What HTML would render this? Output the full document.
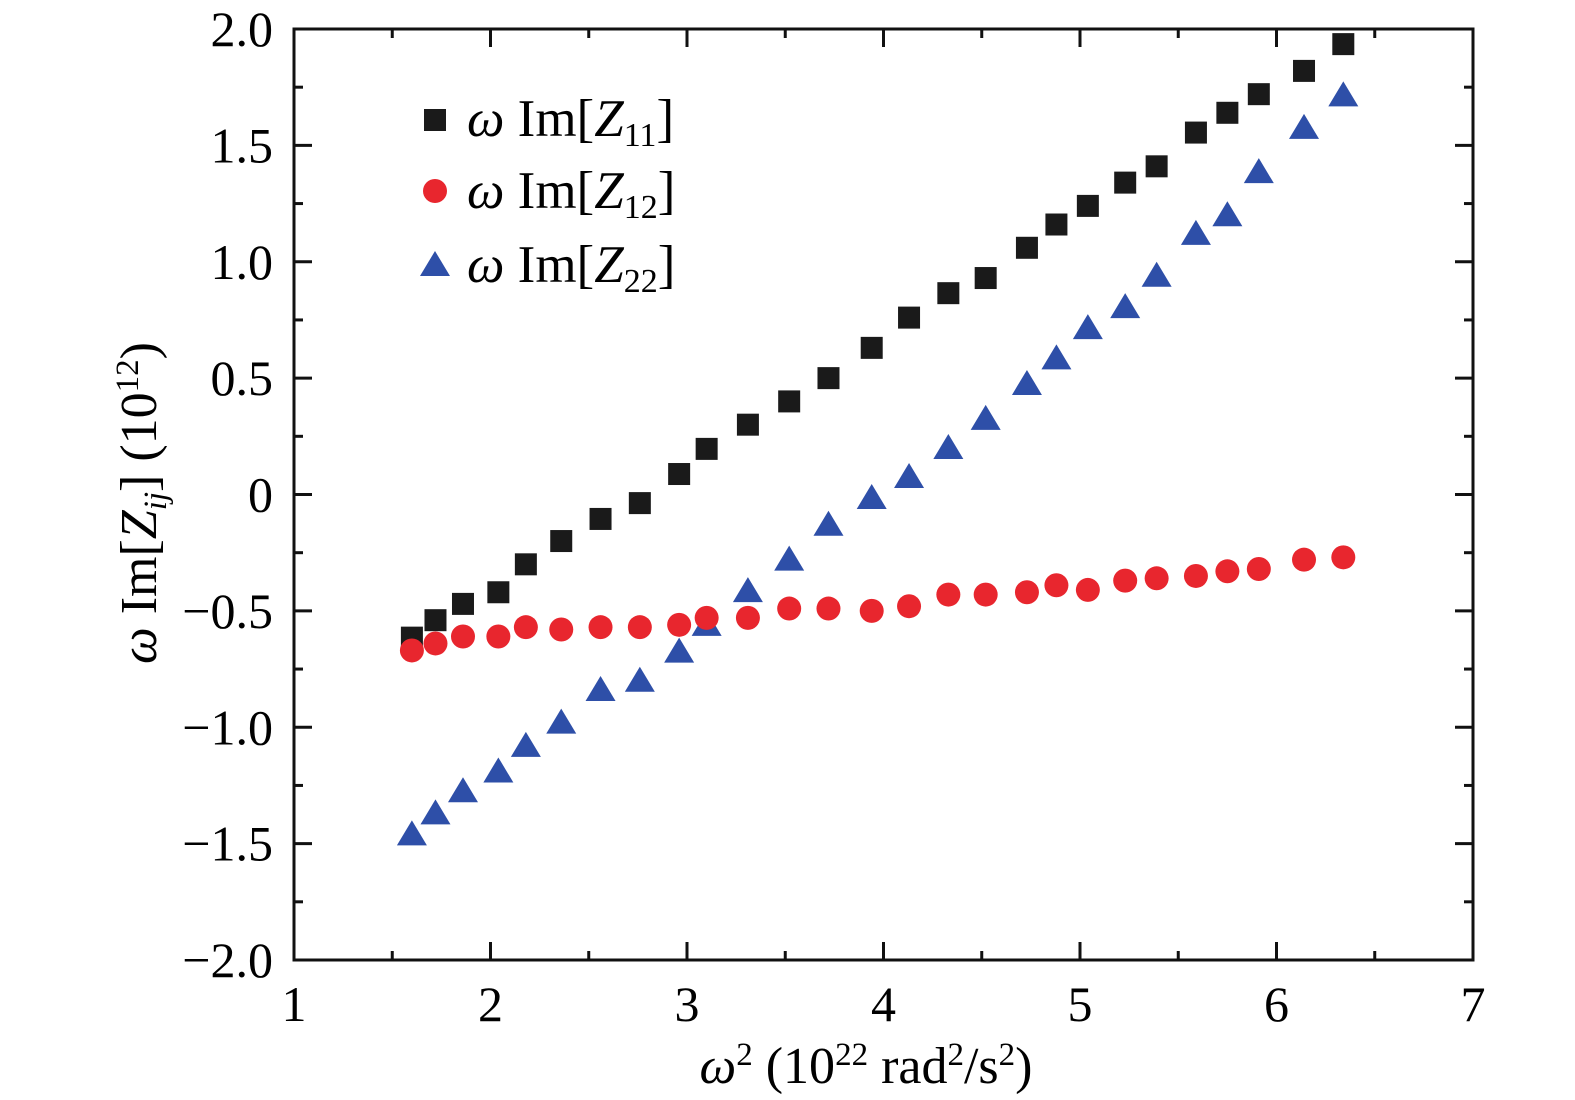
<!DOCTYPE html>
<html><head><meta charset="utf-8"><style>
html,body{margin:0;padding:0;background:#fff;overflow:hidden;width:1575px;height:1100px}
svg{display:block;font-family:"Liberation Serif",serif}
</style></head><body>
<svg id="chart" width="1575" height="1100" xmlns="http://www.w3.org/2000/svg">
<g id="axes"></g>
<g id="marks"></g>
<g id="legend">
 <rect x="424" y="109" width="22" height="22" fill="#1a1a1a"/>
 <text x="467" y="136" font-size="53"><tspan font-style="italic">ω</tspan> Im[<tspan font-style="italic">Z</tspan><tspan font-size="34" dy="10">11</tspan><tspan dy="-10">]</tspan></text>
 <circle cx="435" cy="191" r="12" fill="#e8262e"/>
 <text x="467" y="208" font-size="53"><tspan font-style="italic">ω</tspan> Im[<tspan font-style="italic">Z</tspan><tspan font-size="34" dy="10">12</tspan><tspan dy="-10">]</tspan></text>
 <polygon points="420,276 450,276 435,251" fill="#2e4fa8"/>
 <text x="467" y="282" font-size="53"><tspan font-style="italic">ω</tspan> Im[<tspan font-style="italic">Z</tspan><tspan font-size="34" dy="10">22</tspan><tspan dy="-10">]</tspan></text>
</g>
<text x="866" y="1083" font-size="52" text-anchor="middle"><tspan font-style="italic">ω</tspan><tspan font-size="33" dy="-18">2</tspan><tspan dy="18"> (10</tspan><tspan font-size="33" dy="-18">22</tspan><tspan dy="18"> rad</tspan><tspan font-size="33" dy="-18">2</tspan><tspan dy="18">/s</tspan><tspan font-size="33" dy="-18">2</tspan><tspan dy="18">)</tspan></text>
<text transform="translate(156,503) rotate(-90)" font-size="52" text-anchor="middle"><tspan font-style="italic">ω</tspan> Im[<tspan font-style="italic">Z</tspan><tspan font-size="33" font-style="italic" dy="10">ij</tspan><tspan dy="-10">] (10</tspan><tspan font-size="33" dy="-18">12</tspan><tspan dy="18">)</tspan></text>
</svg>
<script>
const xVals=[1.60,1.72,1.86,2.04,2.18,2.36,2.56,2.76,2.96,3.10,3.31,3.52,3.72,3.94,4.13,4.33,4.52,4.73,4.88,5.04,5.23,5.39,5.59,5.75,5.91,6.14,6.34];
const z11=[-0.615,-0.54,-0.47,-0.42,-0.30,-0.20,-0.105,-0.037,0.088,0.196,0.30,0.40,0.50,0.63,0.76,0.865,0.93,1.06,1.16,1.24,1.34,1.41,1.555,1.64,1.72,1.82,1.935];
const z12=[-0.67,-0.64,-0.61,-0.61,-0.57,-0.58,-0.57,-0.57,-0.56,-0.53,-0.53,-0.49,-0.49,-0.50,-0.48,-0.43,-0.43,-0.42,-0.39,-0.41,-0.37,-0.36,-0.35,-0.33,-0.32,-0.28,-0.27];
const z22=[-1.46,-1.37,-1.275,-1.19,-1.08,-0.98,-0.84,-0.80,-0.675,-0.56,-0.415,-0.28,-0.13,-0.015,0.075,0.20,0.325,0.475,0.585,0.715,0.805,0.94,1.12,1.20,1.385,1.575,1.715];
const xTicks=[1,2,3,4,5,6,7];
const yTicks=[-2,-1.5,-1,-0.5,0,0.5,1,1.5,2];
const yTickLabels=["\u22122.0","\u22121.5","\u22121.0","\u22120.5","0","0.5","1.0","1.5","2.0"];
const L=294,R=1473,T=29,B=960;
const sx=v=>L+(v-1)/6*(R-L);
const sy=v=>B-(v+2)/4*(B-T);
const NS="http://www.w3.org/2000/svg";
function mk(tag,attrs,parent){const e=document.createElementNS(NS,tag);for(const k in attrs)e.setAttribute(k,attrs[k]);parent.appendChild(e);return e;}
const axes=document.getElementById('axes');
const frame=mk('rect',{x:L,y:T,width:R-L,height:B-T,fill:'none',stroke:'#111','stroke-width':3},axes);


for(let v=1;v<=7.001;v+=0.5){
  const len=Number.isInteger(v)?18:9,x=sx(v);
  const t1=mk('line',{x1:x,x2:x,y1:B,y2:B-len,stroke:'#111','stroke-width':3},axes);
  
  
  const t2=mk('line',{x1:x,x2:x,y1:T,y2:T+len,stroke:'#111','stroke-width':3},axes);
  
  
}
for(let v=-2;v<=2.001;v+=0.25){
  const len=Math.abs(v*2-Math.round(v*2))<1e-6?18:9,y=sy(v);
  const t1=mk('line',{x1:L,x2:L+len,y1:y,y2:y,stroke:'#111','stroke-width':3},axes);
  
  
  const t2=mk('line',{x1:R,x2:R-len,y1:y,y2:y,stroke:'#111','stroke-width':3},axes);
  
  
}
xTicks.forEach(v=>{
  const t=mk('text',{x:sx(v),y:1021,'font-size':50,'text-anchor':'middle'},axes);t.textContent=v;
  
  
});
yTicks.forEach((v,i)=>{
  const t=mk('text',{x:273,y:sy(v)+17,'font-size':50,'text-anchor':'end'},axes);t.textContent=yTickLabels[i];
  
  
});
const marks=document.getElementById('marks');
xVals.forEach((xv,i)=>{
  const x=sx(xv);
  const s=mk('rect',{x:x-11,y:sy(z11[i])-11,width:22,height:22,fill:'#1a1a1a'},marks);
  
  
});
xVals.forEach((xv,i)=>{
  const x=sx(xv),y=sy(z22[i]);
  const p=mk('polygon',{points:`${x-15},${y+11} ${x+15},${y+11} ${x},${y-14}`,fill:'#2e4fa8'},marks);
  
  
});
xVals.forEach((xv,i)=>{
  const c=mk('circle',{cx:sx(xv),cy:sy(z12[i]),r:12,fill:'#e8262e'},marks);
  
  
});
</script>
</body></html>
